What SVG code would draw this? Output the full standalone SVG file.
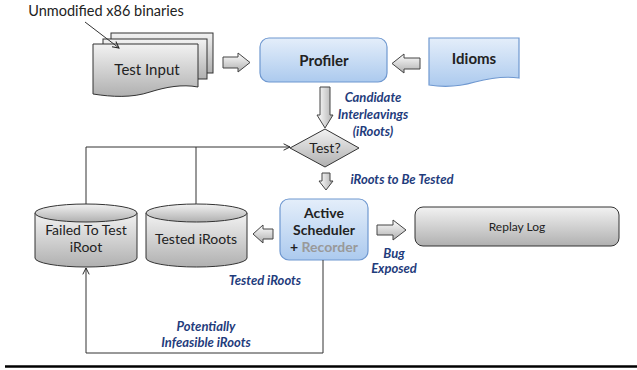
<svg xmlns="http://www.w3.org/2000/svg" width="637" height="370" viewBox="0 0 637 370">
<defs>
<linearGradient id="grey" x1="0" y1="0" x2="0" y2="1"><stop offset="0" stop-color="#f2f2f2"/><stop offset="1" stop-color="#b0b0b0"/></linearGradient>
<linearGradient id="blue" x1="0" y1="0" x2="0" y2="1"><stop offset="0" stop-color="#e4eefa"/><stop offset="1" stop-color="#accaee"/></linearGradient>
<linearGradient id="arr" x1="0" y1="0" x2="0" y2="1"><stop offset="0" stop-color="#ffffff"/><stop offset="1" stop-color="#b0b0b0"/></linearGradient>
<linearGradient id="arrv" x1="0" y1="0" x2="1" y2="0"><stop offset="0" stop-color="#ffffff"/><stop offset="1" stop-color="#b0b0b0"/></linearGradient>
<marker id="open" viewBox="0 0 10 10" refX="9" refY="5" markerWidth="8" markerHeight="8" orient="auto" markerUnits="userSpaceOnUse"><path d="M1,1 L9,5 L1,9" fill="none" stroke="#222" stroke-width="1.2"/></marker>
</defs>
<style>
.t{font-family:Lato,"Open Sans","Liberation Sans",sans-serif;fill:#222;text-anchor:middle}
.b{font-weight:bold}
.lbl{font-family:Lato,"Open Sans","Liberation Sans",sans-serif;font-weight:bold;font-style:italic;fill:#1f3c7c;font-size:13px;text-anchor:middle}
.gshape{fill:url(#grey);stroke:#333;stroke-width:1}
.bshape{fill:url(#blue);stroke:#6f98d0;stroke-width:1.2}
.barr{fill:url(#arr);stroke:#444;stroke-width:1}
.barrv{fill:url(#arrv);stroke:#444;stroke-width:1}
.ln{fill:none;stroke:#333;stroke-width:1}
</style>

<g id="title">
<text class="t" x="106" y="16" font-size="14.5">Unmodified x86 binaries</text>
</g>

<g id="test-input">
<rect x="111" y="33" width="102" height="40" class="gshape"/>
<rect x="103" y="39" width="104" height="40" class="gshape"/>
<path d="M93,44 H198 V87 C182,84 166,87 150,92 C132,98 112,97 93,94 Z" class="gshape"/>
<text class="t" x="147" y="75" font-size="15">Test Input</text>
</g>

<g id="profiler">
<rect x="260" y="38" width="127" height="44" rx="9" class="bshape"/>
<text class="t b" x="324" y="66" font-size="15">Profiler</text>
</g>

<g id="idioms">
<path d="M429,38 H519 V78 C505,76 490,78 475,82 C458,87 442,87 429,85 Z" class="bshape"/>
<text class="t b" x="474" y="64" font-size="15">Idioms</text>
</g>

<g id="test-decision">
<path d="M290,148 L325,129 L359,148 L325,167 Z" class="gshape"/>
<text class="t" x="325" y="153" font-size="14">Test?</text>
</g>

<g id="active-scheduler">
<rect x="280" y="199" width="88" height="61" rx="9" class="bshape"/>
<text class="t b" x="324" y="218" font-size="14">Active</text>
<text class="t b" x="324" y="235" font-size="14">Scheduler</text>
<text class="t b" x="324" y="252" font-size="14">+ <tspan fill="#999">Recorder</tspan></text>
</g>

<g id="replay-log">
<rect x="415" y="207" width="204" height="39" rx="8" class="gshape"/>
<text class="t" x="517" y="231" font-size="12">Replay Log</text>
</g>

<g id="tested-iroots">
<path d="M146,213 V258 A50.5,9 0 0 0 247,258 V213" class="gshape"/>
<ellipse cx="196.5" cy="213" rx="50.5" ry="9" class="gshape"/>
<text class="t" x="196" y="244" font-size="14">Tested iRoots</text>
</g>

<g id="failed-iroot">
<path d="M35,213 V258 A51,9 0 0 0 137,258 V213" class="gshape"/>
<ellipse cx="86" cy="213" rx="51" ry="9" class="gshape"/>
<text class="t" x="86" y="235" font-size="14">Failed To Test</text>
<text class="t" x="86" y="252" font-size="14">iRoot</text>
</g>

<g id="connectors">
<line x1="85" y1="22" x2="119" y2="48" class="ln" marker-end="url(#open)"/>
<path d="M223,57 H238 V53 L250,62.5 L238,72 V68 H223 Z" class="barr"/>
<path d="M420,58 H404 V54 L392,63.5 L404,73 V69 H420 Z" class="barr"/>
<path d="M320,87 H330 V115 H333 L325,128 L317,115 H320 Z" class="barrv"/>
<path d="M322,173 H330 V181 H333 L326,190 L319,181 H322 Z" class="barrv"/>
<path d="M377,225 H393 V220 L406,230 L393,240 V235 H377 Z" class="barr"/>
<path d="M273,229 H263 V225 L253,234 L263,243 V239 H273 Z" class="barr"/>
<path d="M86,204 V147 H290" class="ln" marker-end="url(#open)"/>
<line x1="196" y1="204" x2="196" y2="147" class="ln"/>
<path d="M323,260 V353 H86 V268" class="ln" marker-end="url(#open)"/>
<text class="lbl" x="373" y="102">Candidate</text>
<text class="lbl" x="373" y="119">Interleavings</text>
<text class="lbl" x="373" y="136">(iRoots)</text>
<text class="lbl" x="402" y="184">iRoots to Be Tested</text>
<text class="lbl" x="394" y="258">Bug</text>
<text class="lbl" x="394" y="273">Exposed</text>
<text class="lbl" x="265" y="285">Tested iRoots</text>
<text class="lbl" x="206" y="331">Potentially</text>
<text class="lbl" x="206" y="347">Infeasible iRoots</text>
</g>

<line x1="5" y1="366.5" x2="637" y2="366.5" stroke="#000" stroke-width="2.5"/>
</svg>
